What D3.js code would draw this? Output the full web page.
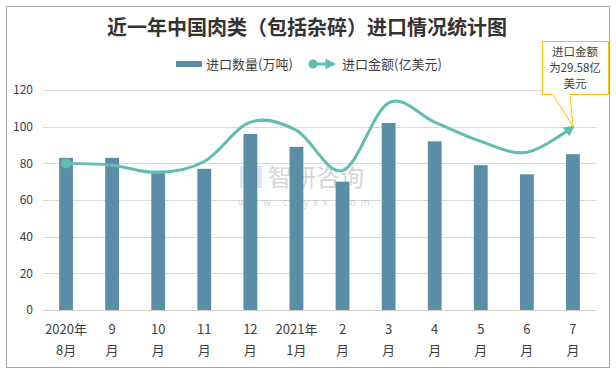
<!DOCTYPE html>
<html lang="zh">
<head>
<meta charset="UTF-8">
<title>近一年中国肉类（包括杂碎）进口情况统计图</title>
<script src="https://d3js.org/d3.v7.min.js"></script>
<style>
  body { margin: 0; background: #fff; }
  svg { display: block; font-family: "Noto Sans CJK SC", "Liberation Sans", sans-serif; }
</style>
</head>
<body>
<svg width="616" height="372"></svg>
<script>
// months: two-line tick labels
const months = [
  ["2020年", "8月"], ["9", "月"], ["10", "月"], ["11", "月"], ["12", "月"],
  ["2021年", "1月"], ["2", "月"], ["3", "月"], ["4", "月"], ["5", "月"], ["6", "月"], ["7", "月"]
];
// 进口数量 (万吨)
const quantity = [83, 83, 76, 77, 96, 89, 70, 102, 92, 79, 74, 85];
// 进口金额 (亿美元), drawn on a hidden secondary axis
const amount = [23.66, 23.37, 22.19, 23.96, 30.32, 28.99, 22.48, 33.43, 30.32, 27.21, 25.44, 29.58];
const yTicks = [0, 20, 40, 60, 80, 100, 120];

const svg = d3.select("svg");
const barColor = "#5a8ea7";
const lineColor = "#61bcb2";
const textColor = "#404040";

// outer frame
svg.append("rect")
  .attr("x", 6.5).attr("y", 6.5)
  .attr("width", 603).attr("height", 361)
  .attr("fill", "none").attr("stroke", "#a6a6a6");

const plotLeft = 43, plotRight = 596, plotTop = 90, plotBottom = 310;

const x = d3.scaleBand()
  .domain(d3.range(months.length))
  .range([plotLeft, plotRight])
  .paddingInner(0.7).paddingOuter(0.35);

const y = d3.scaleLinear().domain([0, 120]).range([plotBottom, plotTop]);
const y2 = d3.scaleLinear().domain([0, 35.5]).range([plotBottom, plotTop]);

// gridlines
svg.append("g")
  .selectAll("line")
  .data(yTicks)
  .enter().append("line")
  .attr("x1", plotLeft).attr("x2", plotRight)
  .attr("y1", d => Math.round(y(d)) + 0.5)
  .attr("y2", d => Math.round(y(d)) + 0.5)
  .attr("stroke", d => d === 0 ? "#d0d0d0" : "#d9d9d9");

// y axis labels
svg.append("g")
  .selectAll("text")
  .data(yTicks)
  .enter().append("text")
  .attr("x", 33)
  .attr("y", d => y(d))
  .attr("dy", "0.35em")
  .attr("text-anchor", "end")
  .attr("font-size", 12)
  .attr("fill", textColor)
  .text(d => d);

// watermark
const wm = svg.append("g").attr("opacity", 0.3);
wm.append("rect").attr("x", 240).attr("y", 166).attr("width", 22).attr("height", 22).attr("fill", "#9fb3cf");
wm.append("text").attr("x", 268).attr("y", 186).attr("font-size", 24).attr("fill", "#777").text("智研咨询");
wm.append("text").attr("x", 238).attr("y", 206).attr("font-size", 9.5).attr("fill", "#777")
  .attr("letter-spacing", 5).text("www.chyxx.com");

// bars
svg.append("g")
  .selectAll("rect")
  .data(quantity)
  .enter().append("rect")
  .attr("x", (d, i) => x(i))
  .attr("y", d => y(d))
  .attr("width", x.bandwidth())
  .attr("height", d => plotBottom - y(d))
  .attr("fill", barColor);

// x labels
const xl = svg.append("g")
  .selectAll("text")
  .data(months)
  .enter().append("text")
  .attr("text-anchor", "middle")
  .attr("font-size", 13)
  .attr("fill", textColor);
xl.append("tspan")
  .attr("x", (d, i) => x(i) + x.bandwidth() / 2)
  .attr("y", 334)
  .text(d => d[0]);
xl.append("tspan")
  .attr("x", (d, i) => x(i) + x.bandwidth() / 2)
  .attr("y", 355)
  .text(d => d[1]);

// arrow marker
const defs = svg.append("defs");
defs.append("marker")
  .attr("id", "arrow")
  .attr("viewBox", "0 0 10 10")
  .attr("refX", 8).attr("refY", 5)
  .attr("markerWidth", 3.6).attr("markerHeight", 3.6)
  .attr("orient", "auto")
  .append("path")
  .attr("d", "M0,0 L10,5 L0,10 Z")
  .attr("fill", lineColor);

// amount line
const line = d3.line()
  .x((d, i) => x(i) + x.bandwidth() / 2)
  .y(d => y2(d))
  .curve(d3.curveCatmullRom.alpha(0));

svg.append("path")
  .datum(amount)
  .attr("d", line)
  .attr("fill", "none")
  .attr("stroke", lineColor)
  .attr("stroke-width", 3)
  .attr("marker-end", "url(#arrow)");

svg.append("circle")
  .attr("cx", x(0) + x.bandwidth() / 2)
  .attr("cy", y2(amount[0]))
  .attr("r", 5)
  .attr("fill", lineColor);

// callout for last point
const last = amount.length - 1;
const tipX = x(last) + x.bandwidth() / 2;
const tipY = y2(amount[last]);
svg.append("path")
  .attr("d", `M542.5,41.5 H608.5 V94.5 H570 L${tipX},${tipY} L553,94.5 H542.5 Z`)
  .attr("fill", "#fff")
  .attr("stroke", "#ffc000")
  .attr("stroke-width", 1);
svg.append("g")
  .selectAll("text")
  .data(["进口金额", "为" + amount[last] + "亿", "美元"])
  .enter().append("text")
  .attr("x", 575)
  .attr("y", (d, i) => 56 + i * 16)
  .attr("text-anchor", "middle")
  .attr("font-size", 11.5)
  .attr("fill", textColor)
  .text(d => d);

// title
svg.append("text")
  .attr("x", 307).attr("y", 35)
  .attr("text-anchor", "middle")
  .attr("font-size", 20)
  .attr("font-weight", "bold")
  .attr("fill", "#333")
  .text("近一年中国肉类（包括杂碎）进口情况统计图");

// legend
const lg = svg.append("g").attr("font-size", 13).attr("fill", textColor);
lg.append("rect").attr("x", 176).attr("y", 61).attr("width", 26).attr("height", 6).attr("fill", barColor);
lg.append("text").attr("x", 206).attr("y", 64).attr("dy", "0.35em").text("进口数量(万吨)");
lg.append("line").attr("x1", 313).attr("x2", 334).attr("y1", 64).attr("y2", 64)
  .attr("stroke", lineColor).attr("stroke-width", 3).attr("marker-end", "url(#arrow)");
lg.append("circle").attr("cx", 313).attr("cy", 64).attr("r", 4.5).attr("fill", lineColor);
lg.append("text").attr("x", 342).attr("y", 64).attr("dy", "0.35em").text("进口金额(亿美元)");
</script>
</body>
</html>
